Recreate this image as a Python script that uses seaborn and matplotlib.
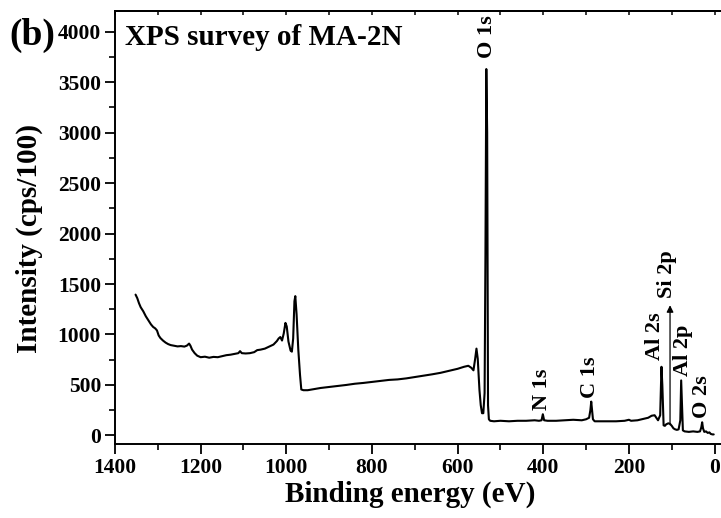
import matplotlib
matplotlib.use("Agg")
import matplotlib.pyplot as plt
import seaborn as sns
import pandas as pd

# ---- data ----
energy = [1352, 1348, 1344, 1340, 1334, 1328, 1322, 1316, 1311, 1306, 1302, 1298, 1294, 1288,
          1282, 1276, 1270, 1262, 1254, 1246, 1238, 1232, 1227, 1224, 1220, 1214, 1208, 1200,
          1190, 1180, 1170, 1160, 1150, 1140, 1130, 1120, 1112, 1108, 1104, 1095, 1085, 1075,
          1068, 1060, 1050, 1040, 1030, 1022, 1018, 1014, 1010, 1006, 1002, 999, 995, 990,
          987, 984, 981, 979, 976, 972, 968, 965, 960, 950, 940, 920, 900, 880, 860, 840,
          820, 800, 780, 760, 740, 720, 700, 680, 660, 640, 620, 600, 585, 575, 568, 563,
          559, 556, 553, 549, 546, 543, 540, 537, 535, 533, 531, 529, 527, 524, 515, 500,
          480, 460, 440, 420, 410, 404, 401, 398, 390, 370, 350, 330, 310, 300, 293, 290,
          288, 286, 284, 280, 270, 250, 230, 210, 200, 195, 180, 165, 155, 147, 140, 136,
          132, 127, 124, 122, 119, 116, 113, 108, 104, 100, 96, 92, 88, 84, 80, 78, 76,
          74, 70, 60, 50, 40, 34, 31, 29, 27, 24, 20, 16, 12, 9, 5, 2]
intensity = [1395, 1360, 1310, 1270, 1230, 1180, 1140, 1100, 1075, 1060, 1040, 990, 965, 940,
             920, 905, 895, 888, 882, 885, 880, 890, 910, 890, 850, 815, 790, 775,
             780, 770, 778, 775, 785, 795, 800, 808, 815, 835, 815, 812, 815, 825,
             845, 850, 860, 880, 900, 935, 960, 975, 940, 1010, 1115, 1080, 930, 840,
             830, 960, 1330, 1380, 1200, 850, 600, 455, 448, 448, 455, 470, 480, 490, 500, 512,
             520, 530, 540, 550, 555, 565, 578, 590, 605, 620, 640, 660, 680, 690, 670, 645,
             760, 860, 760, 450, 300, 220, 220, 420, 1800, 3630, 3000, 300, 160, 145, 140, 145,
             140, 145, 145, 150, 145, 150, 210, 150, 145, 145, 150, 155, 150, 160, 175, 250,
             335, 250, 160, 140, 140, 140, 140, 145, 155, 145, 150, 165, 175, 195, 200, 175,
             150, 200, 680, 500, 100, 95, 110, 120, 115, 95, 70, 60, 55, 60, 150, 545, 300,
             50, 40, 35, 40, 35, 40, 80, 130, 70, 35, 40, 25, 30, 15, 10, 10]

peak_names = ["O 1s", "N 1s", "C 1s", "Al 2s", "Si 2p", "Al 2p", "O 2s"]
peak_label_x = [531, 404, 291, 138, 111.5, 73, 30]
peak_label_y = [3740, 254, 373, 750, 1364, 584, 175]

arrow_x = 104
arrow_from = 106
arrow_to = 1290

x_ticks = [1400, 1200, 1000, 800, 600, 400, 200, 0]
y_ticks = [0, 500, 1000, 1500, 2000, 2500, 3000, 3500, 4000]

title_text = "XPS survey of MA-2N"
panel_text = "(b)"
x_label = "Binding energy (eV)"
y_label = "Intensity (cps/100)"

# ---- style ----
sns.set_theme(style="ticks")
plt.rcParams["font.family"] = ["Liberation Serif", "DejaVu Serif"]
plt.rcParams["font.weight"] = "bold"
plt.rcParams["text.color"] = "black"
plt.rcParams["axes.labelcolor"] = "black"
plt.rcParams["xtick.color"] = "black"
plt.rcParams["ytick.color"] = "black"
plt.rcParams["axes.edgecolor"] = "black"

W, H = 721, 518
fig = plt.figure(figsize=(W / 100, H / 100), dpi=100)
ax = fig.add_axes([115 / W, 74 / H, 606 / W, 433 / H])

df = pd.DataFrame({"energy": energy, "intensity": intensity})
sns.lineplot(data=df, x="energy", y="intensity", sort=False, estimator=None,
             color="black", linewidth=1.5, ax=ax)

ax.set_xlim(1400, -15)
ax.set_ylim(-85, 4205)
ax.set_xticks(x_ticks)
ax.set_xticks(list(range(1300, -1, -200)), minor=True)
ax.set_yticks(y_ticks)
ax.set_yticks(list(range(250, 4000, 500)), minor=True)
ax.set_xlabel("")
ax.set_ylabel("")

for lbl in ax.get_xticklabels() + ax.get_yticklabels():
    lbl.set_fontweight("bold")
    lbl.set_color("black")
ax.tick_params(axis="both", which="major", direction="out", length=7, width=1.3,
               labelsize=15.5, color="black", labelcolor="black", pad=3)
ax.tick_params(axis="both", which="minor", direction="out", length=4, width=1.2,
               color="black")

for side in ["left", "bottom", "top"]:
    ax.spines[side].set_visible(True)
    ax.spines[side].set_linewidth(1.4)
    ax.spines[side].set_color("black")
ax.spines["right"].set_visible(False)

sec = ax.secondary_xaxis("top")
sec.set_xticks(list(range(1400, -1, -100)))
sec.tick_params(direction="in", length=3, width=1.1, labeltop=False, color="black")
sec.spines["top"].set_linewidth(1.4)
sec.spines["top"].set_color("black")

# peak labels
for name, px, py in zip(peak_names, peak_label_x, peak_label_y):
    ax.text(px, py, name, rotation=90, rotation_mode="anchor", ha="left", va="center",
            fontsize=16, fontweight="bold", color="black")

ax.annotate("", xy=(arrow_x, arrow_to), xytext=(arrow_x, arrow_from),
            arrowprops=dict(arrowstyle="-|>", color="black", lw=0.9,
                            mutation_scale=10, shrinkA=0, shrinkB=0))

fig.text(125 / W, 1 - 45 / H, title_text, fontsize=21, fontweight="bold",
         ha="left", va="baseline", color="black")
fig.text(9 / W, 1 - 45 / H, panel_text, fontsize=27, fontweight="bold",
         ha="left", va="baseline", color="black")
fig.text(410 / W, 1 - 502 / H, x_label, fontsize=21, fontweight="bold",
         ha="center", va="baseline", color="black")
fig.text(37 / W, 1 - 238.5 / H, y_label, fontsize=21, fontweight="bold",
         rotation=90, rotation_mode="anchor", ha="center", va="baseline", color="black")

fig.savefig("out.png", dpi=100)
